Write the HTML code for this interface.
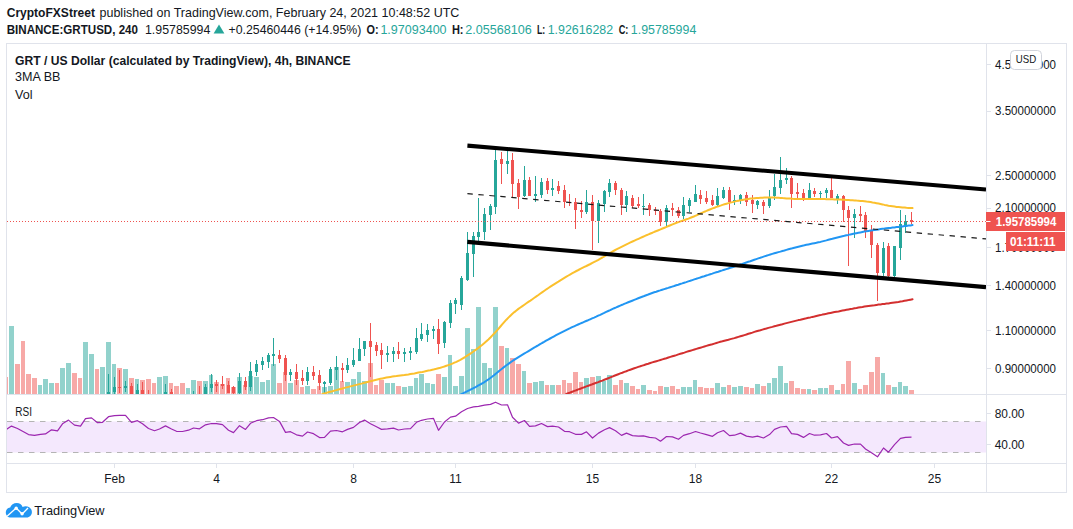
<!DOCTYPE html>
<html lang="en"><head><meta charset="utf-8"><title>GRT / US Dollar chart</title>
<style>html,body{margin:0;padding:0;background:#fff;overflow:hidden}svg{display:block}text{font-family:"Liberation Sans", sans-serif;fill:#131722}</style>
</head><body>
<svg width="1073" height="529" viewBox="0 0 1073 529">
<rect width="1073" height="529" fill="#fff"/>
<text x="6.7" y="17.2" font-size="13" font-weight="bold" textLength="88.3" lengthAdjust="spacingAndGlyphs">CryptoFXStreet</text>
<text x="99.5" y="17.2" font-size="13" textLength="359.9" lengthAdjust="spacingAndGlyphs">published on TradingView.com, February 24, 2021 10:48:52 UTC</text>
<text x="6.7" y="33.5" font-size="13" font-weight="bold" textLength="131.3" lengthAdjust="spacingAndGlyphs">BINANCE:GRTUSD, 240</text>
<text x="145.0" y="33.5" font-size="13" textLength="65.3" lengthAdjust="spacingAndGlyphs">1.95785994</text>
<path d="M213.6 33.5L219 24.6L224.4 33.5Z" fill="#26a69a"/>
<text x="228.5" y="33.5" font-size="13" textLength="132.8" lengthAdjust="spacingAndGlyphs">+0.25460446 (+14.95%)</text>
<text x="366.6" y="33.5" font-size="13" font-weight="bold" textLength="12.1" lengthAdjust="spacingAndGlyphs">O:</text>
<text x="380.4" y="33.5" font-size="13" style="fill:#26a69a" textLength="66.2" lengthAdjust="spacingAndGlyphs">1.97093400</text>
<text x="451.9" y="33.5" font-size="13" font-weight="bold" textLength="11.6" lengthAdjust="spacingAndGlyphs">H:</text>
<text x="465.3" y="33.5" font-size="13" style="fill:#26a69a" textLength="66.4" lengthAdjust="spacingAndGlyphs">2.05568106</text>
<text x="537.0" y="33.5" font-size="13" font-weight="bold" textLength="8.3" lengthAdjust="spacingAndGlyphs">L:</text>
<text x="547.7" y="33.5" font-size="13" style="fill:#26a69a" textLength="65.4" lengthAdjust="spacingAndGlyphs">1.92616282</text>
<text x="618.7" y="33.5" font-size="13" font-weight="bold" textLength="9.7" lengthAdjust="spacingAndGlyphs">C:</text>
<text x="630.8" y="33.5" font-size="13" style="fill:#26a69a" textLength="65.5" lengthAdjust="spacingAndGlyphs">1.95785994</text>
<defs><clipPath id="cm"><rect x="7" y="44" width="979" height="350"/></clipPath><clipPath id="cr"><rect x="7" y="395" width="979" height="68"/></clipPath></defs>
<g clip-path="url(#cr)">
<rect x="7" y="421.5" width="979" height="31" fill="#f4e8fd"/>
<path d="M7 421.5H986M7 452.5H986" stroke="#b4b4b4" stroke-width="1" stroke-dasharray="5.5 5.5" fill="none"/>
<polyline points="6.5,429.4 11.5,426.1 17.5,428.5 23.5,431.8 28.5,434.6 34.5,435.4 40.5,434.4 45.5,433.9 51.5,429.8 57.5,430.9 62.5,423.8 68.5,420.1 74.5,425.1 80.5,426.1 85.5,418.6 91.5,417.9 97.5,422.7 102.5,422.3 108.5,416.7 114.5,415.6 119.5,415.4 125.5,415.4 131.5,422.3 137.5,420.7 142.5,423.8 148.5,428.5 154.5,430.7 159.5,429.0 165.5,425.9 171.5,429.0 176.5,431.3 182.5,431.5 188.5,430.2 193.5,428.0 199.5,428.8 205.5,424.8 211.5,423.5 216.5,423.6 222.5,424.6 228.5,430.2 233.5,432.6 239.5,425.7 245.5,429.4 250.5,423.3 256.5,420.7 262.5,419.7 268.5,417.9 273.5,417.5 279.5,421.4 285.5,432.4 290.5,431.7 296.5,434.8 302.5,436.1 307.5,432.0 313.5,433.7 319.5,437.6 324.5,437.4 330.5,431.1 336.5,430.5 342.5,431.8 347.5,429.4 353.5,427.4 359.5,422.5 364.5,420.1 370.5,423.8 376.5,426.8 381.5,429.4 387.5,428.9 393.5,428.1 398.5,430.0 404.5,429.0 410.5,428.7 416.5,422.3 421.5,420.3 427.5,419.0 433.5,418.4 438.5,430.3 444.5,422.0 450.5,417.1 455.5,416.2 461.5,411.7 467.5,408.5 473.5,406.9 478.5,406.3 484.5,405.2 490.5,404.4 495.5,402.2 501.5,405.0 507.5,404.8 512.5,417.3 518.5,423.1 524.5,420.5 529.5,426.4 535.5,425.9 541.5,423.5 547.5,426.6 552.5,426.2 558.5,427.0 564.5,431.3 569.5,431.7 575.5,434.3 581.5,434.4 586.5,431.8 592.5,438.0 598.5,433.1 604.5,429.8 609.5,427.6 615.5,430.7 621.5,435.4 626.5,433.1 632.5,435.6 638.5,436.1 643.5,435.8 649.5,437.4 655.5,438.0 660.5,441.2 666.5,436.5 672.5,436.9 678.5,439.3 683.5,435.4 689.5,433.7 695.5,431.5 700.5,433.0 706.5,434.6 712.5,436.3 717.5,432.8 723.5,430.5 729.5,435.6 734.5,435.2 740.5,433.1 746.5,436.1 752.5,437.2 757.5,436.1 763.5,438.0 769.5,434.6 774.5,429.4 780.5,427.0 786.5,426.4 791.5,433.7 797.5,434.4 803.5,437.4 809.5,433.5 814.5,435.2 820.5,434.8 826.5,433.5 831.5,438.0 837.5,436.7 843.5,443.0 848.5,445.4 854.5,444.0 860.5,444.1 865.5,449.0 871.5,452.7 877.5,456.8 883.5,448.0 888.5,452.2 894.5,444.7 900.5,438.4 905.5,437.4 911.5,437.2" fill="none" stroke="#9c27b0" stroke-width="1.2" stroke-linejoin="round"/>
</g>
<g clip-path="url(#cm)">
<g shape-rendering="crispEdges">
<rect x="4" y="377" width="4" height="17" fill="#f7a9a7"/>
<rect x="9" y="326" width="5" height="68" fill="#92d2cc"/>
<rect x="15" y="364" width="5" height="30" fill="#f7a9a7"/>
<rect x="21" y="341" width="4" height="53" fill="#f7a9a7"/>
<rect x="26" y="374" width="5" height="20" fill="#f7a9a7"/>
<rect x="32" y="378" width="5" height="16" fill="#f7a9a7"/>
<rect x="38" y="385" width="4" height="9" fill="#92d2cc"/>
<rect x="43" y="379" width="5" height="15" fill="#92d2cc"/>
<rect x="49" y="383" width="5" height="11" fill="#92d2cc"/>
<rect x="55" y="383" width="4" height="11" fill="#f7a9a7"/>
<rect x="60" y="368" width="5" height="26" fill="#92d2cc"/>
<rect x="66" y="363" width="5" height="31" fill="#92d2cc"/>
<rect x="72" y="373" width="5" height="21" fill="#f7a9a7"/>
<rect x="78" y="378" width="4" height="16" fill="#f7a9a7"/>
<rect x="83" y="342" width="5" height="52" fill="#92d2cc"/>
<rect x="89" y="354" width="5" height="40" fill="#92d2cc"/>
<rect x="95" y="369" width="4" height="25" fill="#f7a9a7"/>
<rect x="100" y="367" width="5" height="27" fill="#92d2cc"/>
<rect x="106" y="342" width="5" height="52" fill="#92d2cc"/>
<rect x="112" y="364" width="4" height="30" fill="#92d2cc"/>
<rect x="117" y="368" width="5" height="26" fill="#f7a9a7"/>
<rect x="123" y="369" width="5" height="25" fill="#92d2cc"/>
<rect x="129" y="378" width="5" height="16" fill="#f7a9a7"/>
<rect x="135" y="379" width="4" height="15" fill="#92d2cc"/>
<rect x="140" y="380" width="5" height="14" fill="#f7a9a7"/>
<rect x="146" y="379" width="5" height="15" fill="#f7a9a7"/>
<rect x="152" y="383" width="4" height="11" fill="#f7a9a7"/>
<rect x="157" y="377" width="5" height="17" fill="#92d2cc"/>
<rect x="163" y="376" width="5" height="18" fill="#92d2cc"/>
<rect x="169" y="383" width="4" height="11" fill="#f7a9a7"/>
<rect x="174" y="386" width="5" height="8" fill="#f7a9a7"/>
<rect x="180" y="383" width="5" height="11" fill="#f7a9a7"/>
<rect x="186" y="388" width="4" height="6" fill="#92d2cc"/>
<rect x="191" y="380" width="5" height="14" fill="#92d2cc"/>
<rect x="197" y="381" width="5" height="13" fill="#f7a9a7"/>
<rect x="203" y="381" width="5" height="13" fill="#92d2cc"/>
<rect x="209" y="375" width="4" height="19" fill="#92d2cc"/>
<rect x="214" y="382" width="5" height="12" fill="#f7a9a7"/>
<rect x="220" y="384" width="5" height="10" fill="#f7a9a7"/>
<rect x="226" y="378" width="4" height="16" fill="#f7a9a7"/>
<rect x="231" y="387" width="5" height="7" fill="#f7a9a7"/>
<rect x="237" y="377" width="5" height="17" fill="#92d2cc"/>
<rect x="243" y="385" width="4" height="9" fill="#f7a9a7"/>
<rect x="248" y="376" width="5" height="18" fill="#92d2cc"/>
<rect x="254" y="377" width="5" height="17" fill="#92d2cc"/>
<rect x="260" y="382" width="5" height="12" fill="#92d2cc"/>
<rect x="266" y="380" width="4" height="14" fill="#92d2cc"/>
<rect x="271" y="364" width="5" height="30" fill="#92d2cc"/>
<rect x="277" y="383" width="5" height="11" fill="#f7a9a7"/>
<rect x="283" y="372" width="4" height="22" fill="#f7a9a7"/>
<rect x="288" y="383" width="5" height="11" fill="#92d2cc"/>
<rect x="294" y="380" width="5" height="14" fill="#f7a9a7"/>
<rect x="300" y="387" width="4" height="7" fill="#f7a9a7"/>
<rect x="305" y="386" width="5" height="8" fill="#92d2cc"/>
<rect x="311" y="389" width="5" height="5" fill="#f7a9a7"/>
<rect x="317" y="386" width="4" height="8" fill="#f7a9a7"/>
<rect x="322" y="387" width="5" height="7" fill="#92d2cc"/>
<rect x="328" y="386" width="5" height="8" fill="#92d2cc"/>
<rect x="334" y="367" width="5" height="27" fill="#92d2cc"/>
<rect x="340" y="381" width="4" height="13" fill="#f7a9a7"/>
<rect x="345" y="382" width="5" height="12" fill="#92d2cc"/>
<rect x="351" y="379" width="5" height="15" fill="#92d2cc"/>
<rect x="357" y="372" width="4" height="22" fill="#92d2cc"/>
<rect x="362" y="381" width="5" height="13" fill="#92d2cc"/>
<rect x="368" y="363" width="5" height="31" fill="#f7a9a7"/>
<rect x="374" y="385" width="4" height="9" fill="#f7a9a7"/>
<rect x="379" y="380" width="5" height="14" fill="#f7a9a7"/>
<rect x="385" y="383" width="5" height="11" fill="#92d2cc"/>
<rect x="391" y="383" width="4" height="11" fill="#92d2cc"/>
<rect x="396" y="386" width="5" height="8" fill="#f7a9a7"/>
<rect x="402" y="387" width="5" height="7" fill="#92d2cc"/>
<rect x="408" y="386" width="5" height="8" fill="#92d2cc"/>
<rect x="414" y="378" width="4" height="16" fill="#92d2cc"/>
<rect x="419" y="374" width="5" height="20" fill="#92d2cc"/>
<rect x="425" y="383" width="5" height="11" fill="#92d2cc"/>
<rect x="431" y="384" width="4" height="10" fill="#92d2cc"/>
<rect x="436" y="374" width="5" height="20" fill="#f7a9a7"/>
<rect x="442" y="377" width="5" height="17" fill="#92d2cc"/>
<rect x="448" y="355" width="4" height="39" fill="#92d2cc"/>
<rect x="453" y="386" width="5" height="8" fill="#92d2cc"/>
<rect x="459" y="376" width="5" height="18" fill="#92d2cc"/>
<rect x="465" y="328" width="5" height="66" fill="#92d2cc"/>
<rect x="471" y="349" width="4" height="45" fill="#92d2cc"/>
<rect x="476" y="307" width="5" height="87" fill="#92d2cc"/>
<rect x="482" y="363" width="5" height="31" fill="#92d2cc"/>
<rect x="488" y="368" width="4" height="26" fill="#92d2cc"/>
<rect x="493" y="307" width="5" height="87" fill="#92d2cc"/>
<rect x="499" y="346" width="5" height="48" fill="#f7a9a7"/>
<rect x="505" y="348" width="4" height="46" fill="#92d2cc"/>
<rect x="510" y="358" width="5" height="36" fill="#f7a9a7"/>
<rect x="516" y="364" width="5" height="30" fill="#f7a9a7"/>
<rect x="522" y="371" width="4" height="23" fill="#92d2cc"/>
<rect x="527" y="383" width="5" height="11" fill="#f7a9a7"/>
<rect x="533" y="382" width="5" height="12" fill="#92d2cc"/>
<rect x="539" y="381" width="5" height="13" fill="#92d2cc"/>
<rect x="545" y="385" width="4" height="9" fill="#f7a9a7"/>
<rect x="550" y="385" width="5" height="9" fill="#92d2cc"/>
<rect x="556" y="385" width="5" height="9" fill="#f7a9a7"/>
<rect x="562" y="380" width="4" height="14" fill="#f7a9a7"/>
<rect x="567" y="383" width="5" height="11" fill="#f7a9a7"/>
<rect x="573" y="372" width="5" height="22" fill="#f7a9a7"/>
<rect x="579" y="382" width="4" height="12" fill="#f7a9a7"/>
<rect x="584" y="378" width="5" height="16" fill="#92d2cc"/>
<rect x="590" y="377" width="5" height="17" fill="#f7a9a7"/>
<rect x="596" y="376" width="5" height="18" fill="#92d2cc"/>
<rect x="602" y="381" width="4" height="13" fill="#92d2cc"/>
<rect x="607" y="375" width="5" height="19" fill="#92d2cc"/>
<rect x="613" y="385" width="5" height="9" fill="#f7a9a7"/>
<rect x="619" y="380" width="4" height="14" fill="#f7a9a7"/>
<rect x="624" y="383" width="5" height="11" fill="#92d2cc"/>
<rect x="630" y="386" width="5" height="8" fill="#f7a9a7"/>
<rect x="636" y="389" width="4" height="5" fill="#f7a9a7"/>
<rect x="641" y="385" width="5" height="9" fill="#92d2cc"/>
<rect x="647" y="390" width="5" height="4" fill="#f7a9a7"/>
<rect x="653" y="391" width="4" height="3" fill="#f7a9a7"/>
<rect x="658" y="386" width="5" height="8" fill="#f7a9a7"/>
<rect x="664" y="387" width="5" height="7" fill="#92d2cc"/>
<rect x="670" y="386" width="5" height="8" fill="#f7a9a7"/>
<rect x="676" y="389" width="4" height="5" fill="#f7a9a7"/>
<rect x="681" y="387" width="5" height="7" fill="#92d2cc"/>
<rect x="687" y="387" width="5" height="7" fill="#92d2cc"/>
<rect x="693" y="380" width="4" height="14" fill="#92d2cc"/>
<rect x="698" y="387" width="5" height="7" fill="#f7a9a7"/>
<rect x="704" y="388" width="5" height="6" fill="#f7a9a7"/>
<rect x="710" y="388" width="4" height="6" fill="#f7a9a7"/>
<rect x="715" y="383" width="5" height="11" fill="#92d2cc"/>
<rect x="721" y="387" width="5" height="7" fill="#92d2cc"/>
<rect x="727" y="385" width="4" height="9" fill="#f7a9a7"/>
<rect x="732" y="387" width="5" height="7" fill="#92d2cc"/>
<rect x="738" y="386" width="5" height="8" fill="#92d2cc"/>
<rect x="744" y="387" width="5" height="7" fill="#f7a9a7"/>
<rect x="750" y="388" width="4" height="6" fill="#f7a9a7"/>
<rect x="755" y="384" width="5" height="10" fill="#92d2cc"/>
<rect x="761" y="386" width="5" height="8" fill="#f7a9a7"/>
<rect x="767" y="383" width="4" height="11" fill="#92d2cc"/>
<rect x="772" y="378" width="5" height="16" fill="#92d2cc"/>
<rect x="778" y="366" width="5" height="28" fill="#92d2cc"/>
<rect x="784" y="383" width="4" height="11" fill="#92d2cc"/>
<rect x="789" y="381" width="5" height="13" fill="#f7a9a7"/>
<rect x="795" y="388" width="5" height="6" fill="#f7a9a7"/>
<rect x="801" y="389" width="5" height="5" fill="#f7a9a7"/>
<rect x="807" y="389" width="4" height="5" fill="#92d2cc"/>
<rect x="812" y="390" width="5" height="4" fill="#f7a9a7"/>
<rect x="818" y="388" width="5" height="6" fill="#92d2cc"/>
<rect x="824" y="388" width="4" height="6" fill="#92d2cc"/>
<rect x="829" y="385" width="5" height="9" fill="#f7a9a7"/>
<rect x="835" y="390" width="5" height="4" fill="#92d2cc"/>
<rect x="841" y="384" width="4" height="10" fill="#f7a9a7"/>
<rect x="846" y="361" width="5" height="33" fill="#f7a9a7"/>
<rect x="852" y="383" width="5" height="11" fill="#92d2cc"/>
<rect x="858" y="389" width="4" height="5" fill="#f7a9a7"/>
<rect x="863" y="385" width="5" height="9" fill="#f7a9a7"/>
<rect x="869" y="372" width="5" height="22" fill="#f7a9a7"/>
<rect x="875" y="357" width="5" height="37" fill="#f7a9a7"/>
<rect x="881" y="373" width="4" height="21" fill="#92d2cc"/>
<rect x="886" y="385" width="5" height="9" fill="#f7a9a7"/>
<rect x="892" y="387" width="5" height="7" fill="#92d2cc"/>
<rect x="898" y="382" width="4" height="12" fill="#92d2cc"/>
<rect x="903" y="386" width="5" height="8" fill="#92d2cc"/>
<rect x="909" y="390" width="5" height="4" fill="#f7a9a7"/>
</g>
<g shape-rendering="crispEdges">
<rect x="108" y="374" width="1" height="20" fill="#26a69a"/>
<rect x="107" y="392" width="3" height="2" fill="#26a69a"/>
<rect x="114" y="377" width="1" height="17" fill="#26a69a"/>
<rect x="113" y="387" width="3" height="5" fill="#26a69a"/>
<rect x="119" y="370" width="1" height="23" fill="#ef5350"/>
<rect x="118" y="387" width="3" height="1" fill="#ef5350"/>
<rect x="125" y="381" width="1" height="11" fill="#26a69a"/>
<rect x="124" y="386" width="3" height="2" fill="#26a69a"/>
<rect x="131" y="383" width="1" height="11" fill="#ef5350"/>
<rect x="130" y="386" width="3" height="8" fill="#ef5350"/>
<rect x="137" y="384" width="1" height="10" fill="#26a69a"/>
<rect x="136" y="390" width="3" height="4" fill="#26a69a"/>
<rect x="142" y="382" width="1" height="12" fill="#ef5350"/>
<rect x="141" y="390" width="3" height="4" fill="#ef5350"/>
<rect x="148" y="390" width="1" height="5" fill="#ef5350"/>
<rect x="147" y="394" width="3" height="1" fill="#ef5350"/>
<rect x="165" y="384" width="1" height="10" fill="#26a69a"/>
<rect x="164" y="392" width="3" height="2" fill="#26a69a"/>
<rect x="171" y="389" width="1" height="5" fill="#ef5350"/>
<rect x="170" y="392" width="3" height="2" fill="#ef5350"/>
<rect x="193" y="391" width="1" height="4" fill="#26a69a"/>
<rect x="192" y="394" width="3" height="1" fill="#26a69a"/>
<rect x="199" y="386" width="1" height="9" fill="#ef5350"/>
<rect x="198" y="394" width="3" height="1" fill="#ef5350"/>
<rect x="205" y="384" width="1" height="10" fill="#26a69a"/>
<rect x="204" y="387" width="3" height="7" fill="#26a69a"/>
<rect x="211" y="374" width="1" height="18" fill="#26a69a"/>
<rect x="210" y="384" width="3" height="4" fill="#26a69a"/>
<rect x="216" y="380" width="1" height="12" fill="#ef5350"/>
<rect x="215" y="384" width="3" height="2" fill="#ef5350"/>
<rect x="222" y="376" width="1" height="13" fill="#ef5350"/>
<rect x="221" y="384" width="3" height="2" fill="#ef5350"/>
<rect x="228" y="381" width="1" height="12" fill="#ef5350"/>
<rect x="227" y="385" width="3" height="8" fill="#ef5350"/>
<rect x="233" y="386" width="1" height="8" fill="#ef5350"/>
<rect x="232" y="387" width="3" height="6" fill="#ef5350"/>
<rect x="239" y="373" width="1" height="21" fill="#26a69a"/>
<rect x="238" y="381" width="3" height="12" fill="#26a69a"/>
<rect x="245" y="377" width="1" height="13" fill="#ef5350"/>
<rect x="244" y="381" width="3" height="6" fill="#ef5350"/>
<rect x="250" y="362" width="1" height="29" fill="#26a69a"/>
<rect x="249" y="371" width="3" height="16" fill="#26a69a"/>
<rect x="256" y="360" width="1" height="16" fill="#26a69a"/>
<rect x="255" y="364" width="3" height="8" fill="#26a69a"/>
<rect x="262" y="357" width="1" height="13" fill="#26a69a"/>
<rect x="261" y="361" width="3" height="4" fill="#26a69a"/>
<rect x="268" y="353" width="1" height="15" fill="#26a69a"/>
<rect x="267" y="355" width="3" height="7" fill="#26a69a"/>
<rect x="273" y="338" width="1" height="28" fill="#26a69a"/>
<rect x="272" y="354" width="3" height="2" fill="#26a69a"/>
<rect x="279" y="350" width="1" height="13" fill="#ef5350"/>
<rect x="278" y="355" width="3" height="4" fill="#ef5350"/>
<rect x="285" y="355" width="1" height="26" fill="#ef5350"/>
<rect x="284" y="358" width="3" height="17" fill="#ef5350"/>
<rect x="290" y="369" width="1" height="12" fill="#26a69a"/>
<rect x="289" y="372" width="3" height="3" fill="#26a69a"/>
<rect x="296" y="364" width="1" height="21" fill="#ef5350"/>
<rect x="295" y="372" width="3" height="7" fill="#ef5350"/>
<rect x="302" y="370" width="1" height="15" fill="#ef5350"/>
<rect x="301" y="378" width="3" height="3" fill="#ef5350"/>
<rect x="307" y="367" width="1" height="18" fill="#26a69a"/>
<rect x="306" y="372" width="3" height="9" fill="#26a69a"/>
<rect x="313" y="366" width="1" height="14" fill="#ef5350"/>
<rect x="312" y="372" width="3" height="4" fill="#ef5350"/>
<rect x="319" y="370" width="1" height="20" fill="#ef5350"/>
<rect x="318" y="375" width="3" height="8" fill="#ef5350"/>
<rect x="324" y="381" width="1" height="13" fill="#26a69a"/>
<rect x="323" y="382" width="3" height="2" fill="#26a69a"/>
<rect x="330" y="367" width="1" height="18" fill="#26a69a"/>
<rect x="329" y="369" width="3" height="14" fill="#26a69a"/>
<rect x="336" y="356" width="1" height="24" fill="#26a69a"/>
<rect x="335" y="367" width="3" height="3" fill="#26a69a"/>
<rect x="342" y="363" width="1" height="19" fill="#ef5350"/>
<rect x="341" y="368" width="3" height="2" fill="#ef5350"/>
<rect x="347" y="358" width="1" height="15" fill="#26a69a"/>
<rect x="346" y="365" width="3" height="5" fill="#26a69a"/>
<rect x="353" y="348" width="1" height="19" fill="#26a69a"/>
<rect x="352" y="360" width="3" height="5" fill="#26a69a"/>
<rect x="359" y="338" width="1" height="23" fill="#26a69a"/>
<rect x="358" y="349" width="3" height="12" fill="#26a69a"/>
<rect x="364" y="341" width="1" height="15" fill="#26a69a"/>
<rect x="363" y="341" width="3" height="8" fill="#26a69a"/>
<rect x="370" y="323" width="1" height="54" fill="#ef5350"/>
<rect x="369" y="341" width="3" height="6" fill="#ef5350"/>
<rect x="376" y="342" width="1" height="14" fill="#ef5350"/>
<rect x="375" y="345" width="3" height="6" fill="#ef5350"/>
<rect x="381" y="343" width="1" height="26" fill="#ef5350"/>
<rect x="380" y="350" width="3" height="5" fill="#ef5350"/>
<rect x="387" y="346" width="1" height="16" fill="#26a69a"/>
<rect x="386" y="353" width="3" height="2" fill="#26a69a"/>
<rect x="393" y="347" width="1" height="15" fill="#26a69a"/>
<rect x="392" y="351" width="3" height="3" fill="#26a69a"/>
<rect x="398" y="342" width="1" height="17" fill="#ef5350"/>
<rect x="397" y="351" width="3" height="3" fill="#ef5350"/>
<rect x="404" y="348" width="1" height="14" fill="#26a69a"/>
<rect x="403" y="352" width="3" height="2" fill="#26a69a"/>
<rect x="410" y="347" width="1" height="13" fill="#26a69a"/>
<rect x="409" y="351" width="3" height="2" fill="#26a69a"/>
<rect x="416" y="328" width="1" height="26" fill="#26a69a"/>
<rect x="415" y="338" width="3" height="14" fill="#26a69a"/>
<rect x="421" y="323" width="1" height="18" fill="#26a69a"/>
<rect x="420" y="334" width="3" height="5" fill="#26a69a"/>
<rect x="427" y="324" width="1" height="18" fill="#26a69a"/>
<rect x="426" y="330" width="3" height="5" fill="#26a69a"/>
<rect x="433" y="326" width="1" height="13" fill="#26a69a"/>
<rect x="432" y="329" width="3" height="2" fill="#26a69a"/>
<rect x="438" y="319" width="1" height="35" fill="#ef5350"/>
<rect x="437" y="329" width="3" height="15" fill="#ef5350"/>
<rect x="444" y="321" width="1" height="27" fill="#26a69a"/>
<rect x="443" y="322" width="3" height="21" fill="#26a69a"/>
<rect x="450" y="300" width="1" height="28" fill="#26a69a"/>
<rect x="449" y="303" width="3" height="20" fill="#26a69a"/>
<rect x="455" y="298" width="1" height="16" fill="#26a69a"/>
<rect x="454" y="300" width="3" height="4" fill="#26a69a"/>
<rect x="461" y="276" width="1" height="34" fill="#26a69a"/>
<rect x="460" y="278" width="3" height="27" fill="#26a69a"/>
<rect x="467" y="232" width="1" height="49" fill="#26a69a"/>
<rect x="466" y="253" width="3" height="27" fill="#26a69a"/>
<rect x="473" y="232" width="1" height="45" fill="#26a69a"/>
<rect x="472" y="236" width="3" height="18" fill="#26a69a"/>
<rect x="478" y="198" width="1" height="43" fill="#26a69a"/>
<rect x="477" y="232" width="3" height="5" fill="#26a69a"/>
<rect x="484" y="208" width="1" height="32" fill="#26a69a"/>
<rect x="483" y="214" width="3" height="18" fill="#26a69a"/>
<rect x="490" y="204" width="1" height="26" fill="#26a69a"/>
<rect x="489" y="206" width="3" height="9" fill="#26a69a"/>
<rect x="495" y="150" width="1" height="64" fill="#26a69a"/>
<rect x="494" y="160" width="3" height="47" fill="#26a69a"/>
<rect x="501" y="152" width="1" height="32" fill="#ef5350"/>
<rect x="500" y="159" width="3" height="5" fill="#ef5350"/>
<rect x="507" y="150" width="1" height="24" fill="#26a69a"/>
<rect x="506" y="161" width="3" height="3" fill="#26a69a"/>
<rect x="512" y="153" width="1" height="45" fill="#ef5350"/>
<rect x="511" y="160" width="3" height="24" fill="#ef5350"/>
<rect x="518" y="179" width="1" height="30" fill="#ef5350"/>
<rect x="517" y="183" width="3" height="14" fill="#ef5350"/>
<rect x="524" y="166" width="1" height="31" fill="#26a69a"/>
<rect x="523" y="180" width="3" height="16" fill="#26a69a"/>
<rect x="529" y="177" width="1" height="19" fill="#ef5350"/>
<rect x="528" y="180" width="3" height="16" fill="#ef5350"/>
<rect x="535" y="176" width="1" height="26" fill="#26a69a"/>
<rect x="534" y="194" width="3" height="2" fill="#26a69a"/>
<rect x="541" y="178" width="1" height="20" fill="#26a69a"/>
<rect x="540" y="182" width="3" height="13" fill="#26a69a"/>
<rect x="547" y="178" width="1" height="16" fill="#ef5350"/>
<rect x="546" y="181" width="3" height="9" fill="#ef5350"/>
<rect x="552" y="179" width="1" height="17" fill="#26a69a"/>
<rect x="551" y="188" width="3" height="2" fill="#26a69a"/>
<rect x="558" y="181" width="1" height="13" fill="#ef5350"/>
<rect x="557" y="186" width="3" height="5" fill="#ef5350"/>
<rect x="564" y="185" width="1" height="23" fill="#ef5350"/>
<rect x="563" y="190" width="3" height="12" fill="#ef5350"/>
<rect x="569" y="194" width="1" height="12" fill="#ef5350"/>
<rect x="568" y="202" width="3" height="1" fill="#ef5350"/>
<rect x="575" y="198" width="1" height="31" fill="#ef5350"/>
<rect x="574" y="202" width="3" height="8" fill="#ef5350"/>
<rect x="581" y="201" width="1" height="17" fill="#ef5350"/>
<rect x="580" y="210" width="3" height="2" fill="#ef5350"/>
<rect x="586" y="190" width="1" height="24" fill="#26a69a"/>
<rect x="585" y="202" width="3" height="10" fill="#26a69a"/>
<rect x="592" y="195" width="1" height="55" fill="#ef5350"/>
<rect x="591" y="202" width="3" height="19" fill="#ef5350"/>
<rect x="598" y="200" width="1" height="43" fill="#26a69a"/>
<rect x="597" y="203" width="3" height="18" fill="#26a69a"/>
<rect x="604" y="190" width="1" height="22" fill="#26a69a"/>
<rect x="603" y="191" width="3" height="13" fill="#26a69a"/>
<rect x="609" y="179" width="1" height="18" fill="#26a69a"/>
<rect x="608" y="183" width="3" height="9" fill="#26a69a"/>
<rect x="615" y="181" width="1" height="14" fill="#ef5350"/>
<rect x="614" y="183" width="3" height="7" fill="#ef5350"/>
<rect x="621" y="188" width="1" height="27" fill="#ef5350"/>
<rect x="620" y="190" width="3" height="15" fill="#ef5350"/>
<rect x="626" y="191" width="1" height="21" fill="#26a69a"/>
<rect x="625" y="196" width="3" height="9" fill="#26a69a"/>
<rect x="632" y="195" width="1" height="13" fill="#ef5350"/>
<rect x="631" y="198" width="3" height="8" fill="#ef5350"/>
<rect x="638" y="197" width="1" height="11" fill="#ef5350"/>
<rect x="637" y="204" width="3" height="2" fill="#ef5350"/>
<rect x="643" y="194" width="1" height="21" fill="#26a69a"/>
<rect x="642" y="206" width="3" height="1" fill="#26a69a"/>
<rect x="649" y="203" width="1" height="13" fill="#ef5350"/>
<rect x="648" y="205" width="3" height="5" fill="#ef5350"/>
<rect x="655" y="207" width="1" height="8" fill="#ef5350"/>
<rect x="654" y="210" width="3" height="1" fill="#ef5350"/>
<rect x="660" y="209" width="1" height="17" fill="#ef5350"/>
<rect x="659" y="211" width="3" height="11" fill="#ef5350"/>
<rect x="666" y="205" width="1" height="22" fill="#26a69a"/>
<rect x="665" y="208" width="3" height="14" fill="#26a69a"/>
<rect x="672" y="203" width="1" height="13" fill="#ef5350"/>
<rect x="671" y="208" width="3" height="2" fill="#ef5350"/>
<rect x="678" y="207" width="1" height="11" fill="#ef5350"/>
<rect x="677" y="210" width="3" height="6" fill="#ef5350"/>
<rect x="683" y="197" width="1" height="22" fill="#26a69a"/>
<rect x="682" y="205" width="3" height="11" fill="#26a69a"/>
<rect x="689" y="198" width="1" height="14" fill="#26a69a"/>
<rect x="688" y="200" width="3" height="6" fill="#26a69a"/>
<rect x="695" y="185" width="1" height="17" fill="#26a69a"/>
<rect x="694" y="194" width="3" height="8" fill="#26a69a"/>
<rect x="700" y="190" width="1" height="14" fill="#ef5350"/>
<rect x="699" y="195" width="3" height="4" fill="#ef5350"/>
<rect x="706" y="191" width="1" height="13" fill="#ef5350"/>
<rect x="705" y="198" width="3" height="4" fill="#ef5350"/>
<rect x="712" y="195" width="1" height="11" fill="#ef5350"/>
<rect x="711" y="200" width="3" height="5" fill="#ef5350"/>
<rect x="717" y="188" width="1" height="18" fill="#26a69a"/>
<rect x="716" y="196" width="3" height="9" fill="#26a69a"/>
<rect x="723" y="187" width="1" height="12" fill="#26a69a"/>
<rect x="722" y="190" width="3" height="8" fill="#26a69a"/>
<rect x="729" y="187" width="1" height="23" fill="#ef5350"/>
<rect x="728" y="190" width="3" height="12" fill="#ef5350"/>
<rect x="734" y="195" width="1" height="10" fill="#26a69a"/>
<rect x="733" y="200" width="3" height="2" fill="#26a69a"/>
<rect x="740" y="194" width="1" height="10" fill="#26a69a"/>
<rect x="739" y="195" width="3" height="5" fill="#26a69a"/>
<rect x="746" y="192" width="1" height="14" fill="#ef5350"/>
<rect x="745" y="195" width="3" height="7" fill="#ef5350"/>
<rect x="752" y="195" width="1" height="18" fill="#ef5350"/>
<rect x="751" y="200" width="3" height="4" fill="#ef5350"/>
<rect x="757" y="200" width="1" height="9" fill="#26a69a"/>
<rect x="756" y="201" width="3" height="4" fill="#26a69a"/>
<rect x="763" y="200" width="1" height="14" fill="#ef5350"/>
<rect x="762" y="202" width="3" height="4" fill="#ef5350"/>
<rect x="769" y="190" width="1" height="18" fill="#26a69a"/>
<rect x="768" y="198" width="3" height="8" fill="#26a69a"/>
<rect x="774" y="174" width="1" height="26" fill="#26a69a"/>
<rect x="773" y="187" width="3" height="9" fill="#26a69a"/>
<rect x="780" y="157" width="1" height="37" fill="#26a69a"/>
<rect x="779" y="180" width="3" height="8" fill="#26a69a"/>
<rect x="786" y="168" width="1" height="16" fill="#26a69a"/>
<rect x="785" y="178" width="3" height="2" fill="#26a69a"/>
<rect x="791" y="176" width="1" height="32" fill="#ef5350"/>
<rect x="790" y="178" width="3" height="16" fill="#ef5350"/>
<rect x="797" y="183" width="1" height="15" fill="#ef5350"/>
<rect x="796" y="192" width="3" height="2" fill="#ef5350"/>
<rect x="803" y="189" width="1" height="12" fill="#ef5350"/>
<rect x="802" y="193" width="3" height="5" fill="#ef5350"/>
<rect x="809" y="183" width="1" height="17" fill="#26a69a"/>
<rect x="808" y="190" width="3" height="8" fill="#26a69a"/>
<rect x="814" y="188" width="1" height="9" fill="#ef5350"/>
<rect x="813" y="191" width="3" height="3" fill="#ef5350"/>
<rect x="820" y="191" width="1" height="7" fill="#26a69a"/>
<rect x="819" y="193" width="3" height="1" fill="#26a69a"/>
<rect x="826" y="188" width="1" height="10" fill="#26a69a"/>
<rect x="825" y="190" width="3" height="3" fill="#26a69a"/>
<rect x="831" y="178" width="1" height="20" fill="#ef5350"/>
<rect x="830" y="190" width="3" height="8" fill="#ef5350"/>
<rect x="837" y="194" width="1" height="10" fill="#26a69a"/>
<rect x="836" y="196" width="3" height="3" fill="#26a69a"/>
<rect x="843" y="195" width="1" height="27" fill="#ef5350"/>
<rect x="842" y="196" width="3" height="14" fill="#ef5350"/>
<rect x="848" y="206" width="1" height="60" fill="#ef5350"/>
<rect x="847" y="210" width="3" height="8" fill="#ef5350"/>
<rect x="854" y="209" width="1" height="29" fill="#26a69a"/>
<rect x="853" y="214" width="3" height="4" fill="#26a69a"/>
<rect x="860" y="206" width="1" height="16" fill="#ef5350"/>
<rect x="859" y="214" width="3" height="2" fill="#ef5350"/>
<rect x="865" y="212" width="1" height="26" fill="#ef5350"/>
<rect x="864" y="215" width="3" height="16" fill="#ef5350"/>
<rect x="871" y="225" width="1" height="33" fill="#ef5350"/>
<rect x="870" y="231" width="3" height="14" fill="#ef5350"/>
<rect x="877" y="243" width="1" height="58" fill="#ef5350"/>
<rect x="876" y="245" width="3" height="28" fill="#ef5350"/>
<rect x="883" y="242" width="1" height="34" fill="#26a69a"/>
<rect x="882" y="248" width="3" height="25" fill="#26a69a"/>
<rect x="888" y="243" width="1" height="34" fill="#ef5350"/>
<rect x="887" y="246" width="3" height="30" fill="#ef5350"/>
<rect x="894" y="246" width="1" height="31" fill="#26a69a"/>
<rect x="893" y="246" width="3" height="30" fill="#26a69a"/>
<rect x="900" y="210" width="1" height="50" fill="#26a69a"/>
<rect x="899" y="224" width="3" height="24" fill="#26a69a"/>
<rect x="905" y="215" width="1" height="18" fill="#26a69a"/>
<rect x="904" y="221" width="3" height="4" fill="#26a69a"/>
<rect x="911" y="212" width="1" height="12" fill="#ef5350"/>
<rect x="910" y="220" width="3" height="2" fill="#ef5350"/>
</g>
<polyline points="566.3,394.0 568.3,393.2 570.3,392.5 572.3,391.7 574.3,390.9 576.3,390.2 578.3,389.4 580.3,388.7 582.3,387.9 584.3,387.2 586.3,386.4 588.3,385.7 590.3,385.0 592.3,384.3 594.3,383.5 596.3,382.8 598.3,382.1 600.3,381.3 602.3,380.6 604.3,379.8 606.3,379.0 608.3,378.2 610.3,377.4 612.3,376.6 614.3,375.8 616.3,375.0 618.3,374.2 620.3,373.4 622.3,372.7 624.3,371.9 626.3,371.2 628.3,370.4 630.3,369.7 632.3,369.0 634.3,368.3 636.3,367.6 638.3,366.9 640.3,366.3 642.3,365.6 644.3,365.0 646.3,364.3 648.3,363.7 650.3,363.0 652.3,362.4 654.4,361.8 656.4,361.2 658.4,360.6 660.4,360.0 662.4,359.4 664.4,358.8 666.4,358.2 668.4,357.5 670.4,356.9 672.4,356.3 674.4,355.7 676.4,355.1 678.4,354.4 680.4,353.8 682.4,353.2 684.4,352.6 686.4,351.9 688.4,351.3 690.4,350.7 692.4,350.1 694.4,349.5 696.4,348.9 698.4,348.3 700.4,347.7 702.4,347.1 704.4,346.5 706.4,345.9 708.4,345.3 710.4,344.7 712.4,344.2 714.4,343.6 716.4,343.0 718.4,342.4 720.4,341.8 722.4,341.3 724.4,340.7 726.4,340.2 728.4,339.7 730.4,339.1 732.4,338.6 734.4,338.1 736.4,337.5 738.4,336.9 740.4,336.3 742.4,335.7 744.4,335.1 746.4,334.5 748.4,333.8 750.4,333.2 752.4,332.6 754.4,331.9 756.4,331.3 758.4,330.7 760.4,330.2 762.4,329.6 764.4,329.0 766.4,328.5 768.4,327.9 770.4,327.4 772.4,326.9 774.4,326.3 776.4,325.8 778.4,325.2 780.4,324.7 782.4,324.2 784.4,323.6 786.4,323.1 788.4,322.6 790.4,322.1 792.4,321.6 794.4,321.1 796.4,320.6 798.4,320.1 800.4,319.7 802.4,319.2 804.4,318.7 806.4,318.3 808.4,317.8 810.4,317.4 812.4,316.9 814.4,316.5 816.4,316.0 818.4,315.5 820.4,315.1 822.4,314.6 824.4,314.2 826.5,313.8 828.5,313.3 830.5,312.9 832.5,312.5 834.5,312.1 836.5,311.7 838.5,311.4 840.5,311.0 842.5,310.6 844.5,310.2 846.5,309.8 848.5,309.4 850.5,309.0 852.5,308.7 854.5,308.3 856.5,308.0 858.5,307.6 860.5,307.3 862.5,307.0 864.5,306.6 866.5,306.3 868.5,306.0 870.5,305.7 872.5,305.4 874.5,305.2 876.5,304.9 878.5,304.6 880.5,304.4 882.5,304.1 884.5,303.9 886.5,303.6 888.5,303.4 890.5,303.1 892.5,302.8 894.5,302.5 896.5,302.2 898.5,301.9 900.5,301.5 902.5,301.2 904.5,300.8 906.5,300.4 908.5,300.1 910.5,299.7 912.5,299.3" fill="none" stroke="#d32f2f" stroke-width="2" stroke-linejoin="round" stroke-linecap="round"/>
<polyline points="460.0,394.9 462.0,393.9 464.0,392.9 466.0,391.9 468.0,390.9 470.0,389.9 472.0,388.8 474.0,387.8 476.0,386.8 478.0,385.7 480.0,384.6 482.0,383.5 484.0,382.3 486.0,381.0 488.0,379.7 490.0,378.3 492.0,376.8 494.0,375.2 496.0,373.6 498.0,371.9 500.0,370.3 502.0,368.7 504.0,367.1 506.1,365.5 508.1,364.1 510.1,362.6 512.1,361.2 514.1,359.9 516.1,358.6 518.1,357.3 520.1,356.1 522.1,354.9 524.1,353.7 526.1,352.5 528.1,351.3 530.1,350.1 532.1,348.9 534.1,347.7 536.1,346.5 538.1,345.4 540.1,344.2 542.1,343.0 544.1,341.9 546.1,340.7 548.1,339.6 550.1,338.5 552.1,337.4 554.1,336.3 556.1,335.2 558.1,334.1 560.1,333.1 562.1,332.1 564.1,331.1 566.1,330.1 568.1,329.1 570.1,328.2 572.1,327.2 574.1,326.3 576.1,325.4 578.1,324.5 580.1,323.6 582.1,322.8 584.1,321.9 586.1,321.0 588.1,320.2 590.1,319.3 592.1,318.4 594.1,317.6 596.2,316.7 598.2,315.7 600.2,314.8 602.2,313.8 604.2,312.9 606.2,311.9 608.2,311.0 610.2,310.1 612.2,309.1 614.2,308.2 616.2,307.4 618.2,306.5 620.2,305.6 622.2,304.8 624.2,303.9 626.2,303.1 628.2,302.3 630.2,301.5 632.2,300.7 634.2,299.9 636.2,299.1 638.2,298.3 640.2,297.5 642.2,296.7 644.2,296.0 646.2,295.2 648.2,294.5 650.2,293.7 652.2,293.0 654.2,292.3 656.2,291.7 658.2,291.0 660.2,290.4 662.2,289.7 664.2,289.1 666.2,288.5 668.2,287.9 670.2,287.2 672.2,286.6 674.2,286.0 676.2,285.3 678.2,284.7 680.2,284.0 682.2,283.4 684.2,282.7 686.2,282.1 688.3,281.4 690.3,280.8 692.3,280.1 694.3,279.4 696.3,278.8 698.3,278.1 700.3,277.5 702.3,276.8 704.3,276.2 706.3,275.5 708.3,274.9 710.3,274.2 712.3,273.6 714.3,272.9 716.3,272.3 718.3,271.7 720.3,271.0 722.3,270.4 724.3,269.7 726.3,269.1 728.3,268.5 730.3,267.8 732.3,267.2 734.3,266.5 736.3,265.9 738.3,265.2 740.3,264.5 742.3,263.9 744.3,263.2 746.3,262.5 748.3,261.8 750.3,261.2 752.3,260.5 754.3,259.8 756.3,259.1 758.3,258.4 760.3,257.8 762.3,257.1 764.3,256.4 766.3,255.8 768.3,255.1 770.3,254.5 772.3,253.9 774.3,253.3 776.3,252.7 778.4,252.1 780.4,251.6 782.4,251.0 784.4,250.5 786.4,249.9 788.4,249.3 790.4,248.8 792.4,248.3 794.4,247.7 796.4,247.2 798.4,246.7 800.4,246.2 802.4,245.7 804.4,245.3 806.4,244.8 808.4,244.4 810.4,244.0 812.4,243.6 814.4,243.2 816.4,242.8 818.4,242.3 820.4,241.9 822.4,241.4 824.4,240.9 826.4,240.4 828.4,239.8 830.4,239.3 832.4,238.8 834.4,238.2 836.4,237.7 838.4,237.2 840.4,236.7 842.4,236.2 844.4,235.8 846.4,235.3 848.4,234.9 850.4,234.4 852.4,234.0 854.4,233.6 856.4,233.2 858.4,232.8 860.4,232.4 862.4,232.0 864.4,231.6 866.4,231.3 868.5,230.9 870.5,230.6 872.5,230.3 874.5,229.9 876.5,229.7 878.5,229.4 880.5,229.1 882.5,228.8 884.5,228.6 886.5,228.3 888.5,228.1 890.5,227.9 892.5,227.6 894.5,227.4 896.5,227.1 898.5,226.9 900.5,226.6 902.5,226.4 904.5,226.1 906.5,225.9 908.5,225.6 910.5,225.4 912.5,225.1" fill="none" stroke="#2196f3" stroke-width="2" stroke-linejoin="round" stroke-linecap="round"/>
<polyline points="322.4,394.0 324.4,393.4 326.4,392.9 328.4,392.3 330.4,391.7 332.4,391.2 334.4,390.6 336.4,390.1 338.4,389.5 340.4,389.0 342.4,388.5 344.4,387.9 346.4,387.4 348.4,386.9 350.4,386.4 352.4,385.9 354.4,385.4 356.4,384.9 358.4,384.4 360.4,383.9 362.4,383.4 364.4,382.8 366.4,382.3 368.4,381.8 370.4,381.3 372.4,380.8 374.4,380.3 376.4,379.8 378.4,379.3 380.4,378.8 382.4,378.4 384.4,378.0 386.4,377.6 388.4,377.2 390.4,376.9 392.4,376.6 394.4,376.3 396.4,376.1 398.4,375.8 400.4,375.5 402.4,375.2 404.4,375.0 406.4,374.7 408.4,374.4 410.4,374.0 412.4,373.7 414.4,373.4 416.4,373.0 418.4,372.6 420.4,372.2 422.4,371.9 424.4,371.5 426.4,371.0 428.4,370.6 430.4,370.2 432.4,369.7 434.4,369.3 436.4,368.8 438.4,368.2 440.4,367.7 442.4,367.1 444.4,366.5 446.4,365.8 448.4,365.1 450.4,364.4 452.4,363.6 454.4,362.7 456.4,361.8 458.4,360.8 460.4,359.8 462.4,358.6 464.4,357.5 466.4,356.2 468.4,354.9 470.4,353.6 472.4,352.2 474.4,350.8 476.4,349.4 478.4,347.9 480.4,346.3 482.4,344.7 484.4,343.0 486.4,341.2 488.4,339.4 490.4,337.5 492.4,335.4 494.4,333.3 496.4,331.1 498.4,328.8 500.4,326.5 502.4,324.2 504.4,321.9 506.4,319.7 508.4,317.6 510.4,315.7 512.4,313.8 514.4,312.1 516.4,310.5 518.4,308.9 520.4,307.5 522.4,306.1 524.4,304.7 526.4,303.3 528.4,301.9 530.4,300.6 532.4,299.2 534.4,297.8 536.4,296.4 538.4,295.0 540.4,293.5 542.4,292.1 544.4,290.7 546.4,289.3 548.4,288.0 550.4,286.7 552.4,285.4 554.4,284.1 556.4,282.8 558.4,281.6 560.4,280.3 562.4,279.1 564.4,277.9 566.4,276.7 568.4,275.5 570.4,274.3 572.4,273.2 574.4,272.1 576.4,271.0 578.4,270.0 580.4,268.9 582.4,267.9 584.4,266.9 586.4,266.0 588.4,265.0 590.4,264.0 592.4,262.9 594.4,261.9 596.4,260.9 598.4,259.8 600.4,258.6 602.4,257.5 604.4,256.3 606.4,255.1 608.4,254.0 610.4,252.8 612.4,251.6 614.4,250.5 616.4,249.4 618.5,248.3 620.5,247.3 622.5,246.3 624.5,245.3 626.5,244.3 628.5,243.4 630.5,242.4 632.5,241.5 634.5,240.6 636.5,239.7 638.5,238.8 640.5,237.9 642.5,237.0 644.5,236.1 646.5,235.2 648.5,234.4 650.5,233.5 652.5,232.7 654.5,231.8 656.5,231.0 658.5,230.2 660.5,229.4 662.5,228.5 664.5,227.7 666.5,226.9 668.5,226.0 670.5,225.2 672.5,224.4 674.5,223.6 676.5,222.8 678.5,222.1 680.5,221.4 682.5,220.7 684.5,220.0 686.5,219.3 688.5,218.6 690.5,217.8 692.5,217.0 694.5,216.2 696.5,215.3 698.5,214.4 700.5,213.5 702.5,212.6 704.5,211.7 706.5,210.9 708.5,210.0 710.5,209.2 712.5,208.4 714.5,207.7 716.5,206.9 718.5,206.2 720.5,205.6 722.5,204.9 724.5,204.3 726.5,203.7 728.5,203.1 730.5,202.6 732.5,202.1 734.5,201.6 736.5,201.1 738.5,200.7 740.5,200.3 742.5,199.9 744.5,199.5 746.5,199.2 748.5,198.9 750.5,198.6 752.5,198.4 754.5,198.2 756.5,198.0 758.5,197.9 760.5,197.8 762.5,197.7 764.5,197.6 766.5,197.6 768.5,197.5 770.5,197.5 772.5,197.6 774.5,197.6 776.5,197.7 778.5,197.8 780.5,197.9 782.5,198.1 784.5,198.2 786.5,198.4 788.5,198.5 790.5,198.6 792.5,198.8 794.5,198.9 796.5,198.9 798.5,199.0 800.5,199.1 802.5,199.1 804.5,199.1 806.5,199.1 808.5,199.1 810.5,199.1 812.5,199.1 814.5,199.1 816.5,199.1 818.5,199.1 820.5,199.1 822.5,199.1 824.5,199.1 826.5,199.2 828.5,199.2 830.5,199.3 832.5,199.3 834.5,199.4 836.5,199.5 838.5,199.5 840.5,199.6 842.5,199.7 844.5,199.8 846.5,199.9 848.5,200.0 850.5,200.2 852.5,200.3 854.5,200.4 856.5,200.6 858.5,200.7 860.5,200.9 862.5,201.1 864.5,201.3 866.5,201.6 868.5,201.8 870.5,202.1 872.5,202.5 874.5,202.8 876.5,203.2 878.5,203.6 880.5,204.0 882.5,204.4 884.5,204.9 886.5,205.3 888.5,205.7 890.5,206.0 892.5,206.3 894.5,206.6 896.5,206.9 898.5,207.1 900.5,207.3 902.5,207.5 904.5,207.6 906.5,207.8 908.5,207.9 910.5,208.0 912.5,208.1" fill="none" stroke="#fbc02d" stroke-width="2" stroke-linejoin="round" stroke-linecap="round"/>
<path d="M7 221.5H986" stroke="#ef5350" stroke-width="1" stroke-dasharray="1 2" fill="none" shape-rendering="crispEdges"/>
<path d="M467.4 145.6L986 189.5" stroke="#000" stroke-width="4.1" fill="none"/>
<path d="M467.3 241.9L986 287.1" stroke="#000" stroke-width="4.1" fill="none"/>
<path d="M467.4 193.6L986 238.9" stroke="#1a1a1a" stroke-width="1.2" stroke-dasharray="5.4 5.6" fill="none"/>
</g>
<g shape-rendering="crispEdges" fill="none" stroke="#e0e3eb" stroke-width="1">
<rect x="6.5" y="43.5" width="1060" height="449"/>
<path d="M986.5 43.5V492.5M6.5 394.5H1066.5M6.5 463.5H1066.5"/>
<path d="M986.5 64.5H991"/>
<path d="M986.5 111.5H991"/>
<path d="M986.5 175.5H991"/>
<path d="M986.5 208.5H991"/>
<path d="M986.5 247.5H991"/>
<path d="M986.5 285.5H991"/>
<path d="M986.5 330.5H991"/>
<path d="M986.5 368.5H991"/>
<path d="M986.5 413.5H991"/>
<path d="M986.5 444.5H991"/>
<path d="M114.5 463.5V468"/>
<path d="M216.5 463.5V468"/>
<path d="M353.5 463.5V468"/>
<path d="M455.5 463.5V468"/>
<path d="M592.5 463.5V468"/>
<path d="M695.5 463.5V468"/>
<path d="M831.5 463.5V468"/>
<path d="M934.5 463.5V468"/>
</g>
<text x="995.0" y="68.8" font-size="12" textLength="61.0" lengthAdjust="spacingAndGlyphs">4.50000000</text>
<text x="995.0" y="115.3" font-size="12" textLength="61.0" lengthAdjust="spacingAndGlyphs">3.50000000</text>
<text x="995.0" y="179.6" font-size="12" textLength="61.0" lengthAdjust="spacingAndGlyphs">2.50000000</text>
<text x="995.0" y="212.4" font-size="12" textLength="61.0" lengthAdjust="spacingAndGlyphs">2.10000000</text>
<text x="995.0" y="252.1" font-size="12" textLength="61.0" lengthAdjust="spacingAndGlyphs">1.70000000</text>
<text x="995.0" y="289.9" font-size="12" textLength="61.0" lengthAdjust="spacingAndGlyphs">1.40000000</text>
<text x="995.0" y="334.9" font-size="12" textLength="61.0" lengthAdjust="spacingAndGlyphs">1.10000000</text>
<text x="995.0" y="372.8" font-size="12" textLength="61.0" lengthAdjust="spacingAndGlyphs">0.90000000</text>
<text x="994.7" y="418.1" font-size="12" textLength="29.8" lengthAdjust="spacingAndGlyphs">80.00</text>
<text x="994.7" y="449.1" font-size="12" textLength="29.8" lengthAdjust="spacingAndGlyphs">40.00</text>
<text x="114.5" y="482.7" font-size="12" text-anchor="middle">Feb</text>
<text x="216.5" y="482.7" font-size="12" text-anchor="middle">4</text>
<text x="353.5" y="482.7" font-size="12" text-anchor="middle">8</text>
<text x="455.5" y="482.7" font-size="12" text-anchor="middle">11</text>
<text x="592.5" y="482.7" font-size="12" text-anchor="middle">15</text>
<text x="695.5" y="482.7" font-size="12" text-anchor="middle">18</text>
<text x="831.5" y="482.7" font-size="12" text-anchor="middle">22</text>
<text x="934.5" y="482.7" font-size="12" text-anchor="middle">25</text>
<text x="15.1" y="64.5" font-size="12" font-weight="bold" textLength="335.6" lengthAdjust="spacingAndGlyphs">GRT / US Dollar (calculated by TradingView), 4h, BINANCE</text>
<text x="15.0" y="81.2" font-size="12" textLength="45.4" lengthAdjust="spacingAndGlyphs">3MA BB</text>
<text x="15.0" y="98.7" font-size="12" textLength="17.5" lengthAdjust="spacingAndGlyphs">Vol</text>
<text x="15.3" y="415.8" font-size="12" textLength="16.7" lengthAdjust="spacingAndGlyphs">RSI</text>
<rect x="1010.5" y="50.5" width="31" height="19" rx="4" fill="#fff" stroke="#d1d4dc" stroke-width="1"/>
<text x="1015.8" y="63.0" font-size="11" textLength="20.4" lengthAdjust="spacingAndGlyphs">USD</text>
<rect x="986" y="212" width="79" height="19" fill="#ef5350"/>
<rect x="986" y="221" width="4.5" height="1" fill="#fff"/>
<text x="995.8" y="225.9" font-size="12" font-weight="bold" style="fill:#fff" textLength="60.5" lengthAdjust="spacingAndGlyphs">1.95785994</text>
<rect x="1006" y="232" width="59" height="19" fill="#ef5350"/>
<text x="1009.9" y="245.9" font-size="12" font-weight="bold" style="fill:#fff" textLength="45.7" lengthAdjust="spacingAndGlyphs">01:11:11</text>
<g id="logo">
<path d="M11 517.5C7.8 517.5 5.8 515.2 5.8 512.4C5.8 509.8 7.7 507.8 10.2 507.5C10.9 504.8 13.7 502.9 16.8 502.9C19.5 502.9 21.7 504.5 22.6 506.9C23.5 506.4 24.6 506.2 25.6 506.2C29.1 506.2 31.9 508.8 31.9 512C31.9 515.1 29.6 517.5 26.6 517.5Z" fill="#2196f3"/>
<path d="M7.3 516.1L16.2 508.1L22.1 513.9L28 508.1" stroke="#fff" stroke-width="1.4" fill="none"/>
<circle cx="16.2" cy="508.3" r="1.7" fill="#fff"/><circle cx="22.1" cy="513.8" r="1.7" fill="#fff"/>
</g>
<text x="34.3" y="514.6" font-size="13" textLength="70.3" lengthAdjust="spacingAndGlyphs">TradingView</text>
</svg></body></html>
